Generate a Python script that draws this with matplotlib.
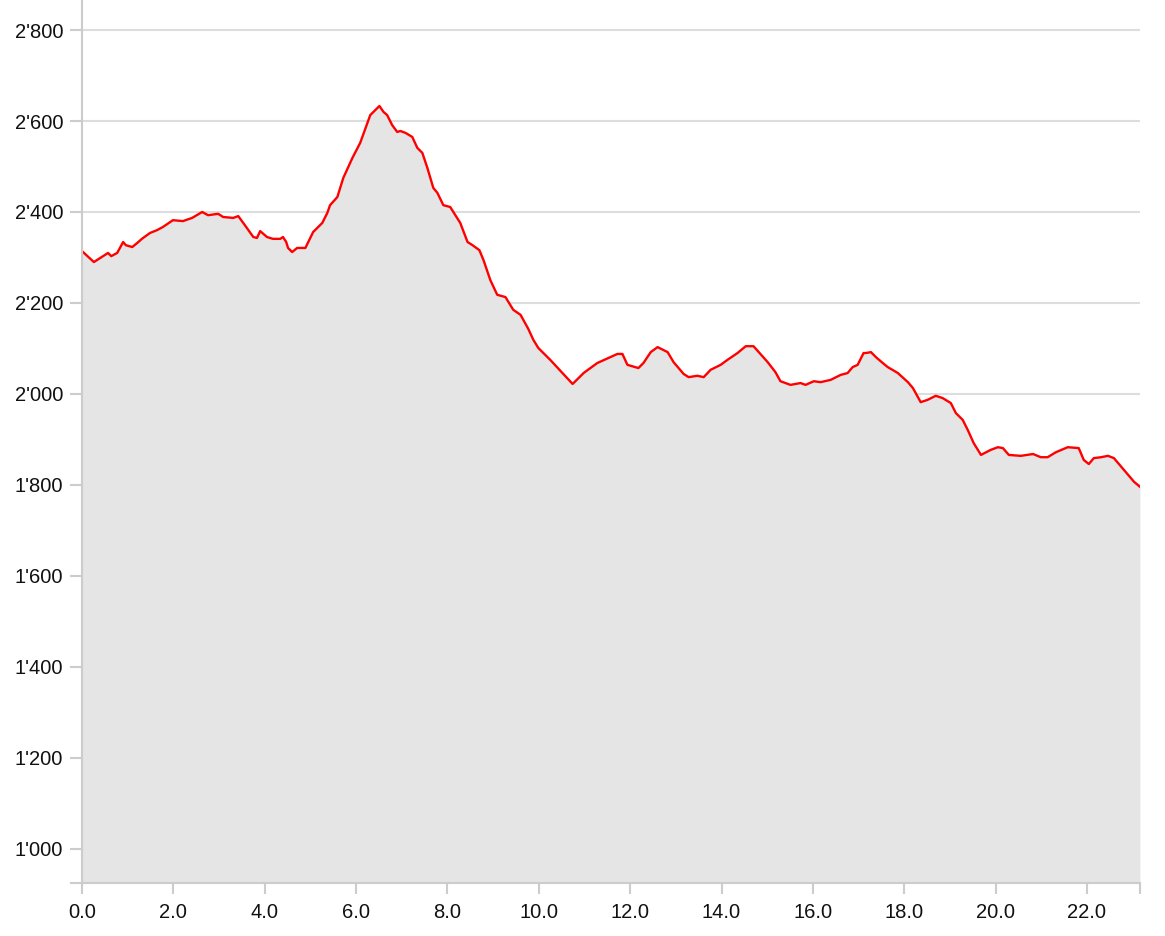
import matplotlib
matplotlib.use("Agg")
import matplotlib.pyplot as plt
from matplotlib.ticker import FuncFormatter, FixedLocator

# distance (km) and elevation (m)
dist = [0.00, 0.26, 0.57, 0.64, 0.77, 0.90, 0.96, 1.10, 1.21, 1.31,
        1.49, 1.64, 1.77, 1.99, 2.21, 2.41, 2.63, 2.76, 2.98, 3.09,
        3.31, 3.42, 3.53, 3.75, 3.83, 3.90, 4.05, 4.18, 4.34, 4.40,
        4.47, 4.51, 4.60, 4.71, 4.89, 5.06, 5.26, 5.37, 5.43, 5.59,
        5.72, 5.92, 6.09, 6.31, 6.51, 6.60, 6.68, 6.79, 6.90, 6.97,
        7.08, 7.23, 7.34, 7.45, 7.56, 7.69, 7.78, 7.91, 8.06, 8.13,
        8.28, 8.44, 8.55, 8.70, 8.79, 8.94, 9.09, 9.27, 9.44, 9.60,
        9.77, 9.88, 9.99, 10.25, 10.74, 10.98, 11.28, 11.72, 11.83, 11.94,
        12.18, 12.29, 12.45, 12.60, 12.82, 12.95, 13.17, 13.28, 13.47, 13.61,
        13.76, 13.98, 14.13, 14.35, 14.53, 14.70, 15.01, 15.18, 15.29, 15.51,
        15.73, 15.84, 16.02, 16.17, 16.39, 16.61, 16.76, 16.87, 16.98, 17.11,
        17.16, 17.27, 17.38, 17.53, 17.64, 17.86, 18.08, 18.19, 18.36, 18.51,
        18.69, 18.84, 19.02, 19.13, 19.28, 19.39, 19.52, 19.68, 19.89, 20.05,
        20.16, 20.29, 20.55, 20.82, 20.99, 21.14, 21.32, 21.58, 21.82, 21.93,
        22.04, 22.15, 22.31, 22.46, 22.59, 22.81, 23.03, 23.16]
elev = [2314, 2290, 2310, 2303, 2310, 2334, 2327, 2323, 2332, 2341,
        2354, 2360, 2367, 2382, 2380, 2387, 2400, 2393, 2396, 2389,
        2387, 2391, 2376, 2345, 2343, 2358, 2345, 2341, 2341, 2345,
        2334, 2321, 2312, 2321, 2321, 2356, 2376, 2398, 2415, 2433,
        2475, 2519, 2552, 2613, 2633, 2620, 2613, 2591, 2576, 2578,
        2574, 2565, 2541, 2530, 2497, 2453, 2442, 2415, 2411, 2400,
        2376, 2334, 2327, 2316, 2294, 2250, 2218, 2213, 2185, 2174,
        2143, 2119, 2101, 2075, 2022, 2046, 2068, 2088, 2088, 2064,
        2057, 2068, 2092, 2103, 2092, 2070, 2044, 2037, 2040, 2037,
        2053, 2064, 2075, 2090, 2105, 2105, 2070, 2048, 2028, 2020,
        2024, 2020, 2028, 2026, 2031, 2042, 2046, 2059, 2064, 2090,
        2090, 2092, 2081, 2068, 2059, 2046, 2026, 2013, 1982, 1987,
        1996, 1991, 1980, 1958, 1943, 1921, 1892, 1866, 1877, 1883,
        1881, 1866, 1864, 1868, 1861, 1861, 1872, 1883, 1881, 1855,
        1846, 1859, 1861, 1864, 1859, 1833, 1807, 1796]

y_ticks = [1000, 1200, 1400, 1600, 1800, 2000, 2200, 2400, 2600, 2800]
x_ticks = [0, 2, 4, 6, 8, 10, 12, 14, 16, 18, 20, 22]

plt.rcParams['font.family'] = ['Liberation Sans', 'DejaVu Sans']

fig = plt.figure(figsize=(11.65, 9.36), dpi=100)
ax = fig.add_axes([0.0704, 0.0566, 0.9081, 0.9434])

ymin, ymax = 925, 2866
xmax = dist[-1]

ax.fill_between(dist, elev, ymin, color='#e5e5e5', lw=0, zorder=2)
ax.plot(dist, elev, color='#ff0000', lw=1.7, zorder=3)

ax.set_xlim(0, xmax)
ax.set_ylim(ymin, ymax)

ax.set_yticks(y_ticks)
ax.set_xticks(x_ticks)
ax.yaxis.set_major_formatter(FuncFormatter(lambda v, p: "{:,}".format(int(v)).replace(",", "'")))
ax.xaxis.set_major_formatter(FuncFormatter(lambda v, p: "{:.1f}".format(v)))

# outer ticks at the ends of the domain
ax.xaxis.set_minor_locator(FixedLocator([xmax]))
ax.yaxis.set_minor_locator(FixedLocator([ymin]))

ax.grid(axis='y', color='#dddddd', lw=1.5, zorder=1)
ax.set_axisbelow(True)

for s in ['top', 'right']:
    ax.spines[s].set_visible(False)
for s in ['left', 'bottom']:
    ax.spines[s].set_color('#cccccc')
    ax.spines[s].set_linewidth(1.5)
    ax.spines[s].set_zorder(4)

ax.tick_params(which='both', axis='y', length=8.5, width=1.5, color='#cccccc', pad=5,
               labelsize=14.5, labelcolor='#111111')
ax.tick_params(which='both', axis='x', length=8, width=1.5, color='#cccccc', pad=6.5,
               labelsize=14.5, labelcolor='#111111')

fig.savefig('out.png', dpi=100)
